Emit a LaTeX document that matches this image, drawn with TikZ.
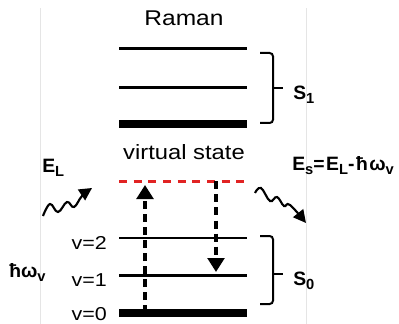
\documentclass[tikz,border=0pt]{standalone}
\usepackage{fontspec}
\setmainfont{Liberation Sans}
\newfontfamily\widefont[FakeStretch=1.15]{Liberation Sans}
\newfontfamily\spacedbold[LetterSpace=8]{Liberation Sans Bold}
\usetikzlibrary{arrows.meta}
\newcommand\subb[1]{\raisebox{-3pt}{\fontsize{11}{11}\selectfont #1}}
\begin{document}
\begin{tikzpicture}[x=0.75pt,y=-0.75pt,
  lvl/.style={line width=1.9pt},
  lvlthick/.style={line width=6pt},
  virt/.style={draw={rgb,255:red,225;green,35;blue,35}, line width=2pt, dash pattern=on 6pt off 5pt},
  trans/.style={line width=2.5pt, dash pattern=on 6pt off 3.8pt, -{Triangle[length=10.5pt,width=12.5pt]}},
  brk/.style={line width=1.5pt, rounded corners=2.5pt},
  wave/.style={line width=1.6pt, -{Triangle[length=9.5pt,width=9.5pt]}},
  reg/.style={font=\widefont\fontsize{14}{16}\selectfont, inner sep=0pt},
  bld/.style={font=\bfseries\fontsize{14.5}{16}\selectfont, inner sep=0pt},
  frame/.style={draw=black!10, line width=0.4pt}
]
\useasboundingbox (0,0) rectangle (399,324);
% faint frame lines
\draw[frame] (40.5,8) -- (40.5,324);
\draw[frame] (306.5,8) -- (306.5,324);
% level coordinates
\coordinate (s1aL) at (119,48.7);  \coordinate (s1aR) at (247,48.7);
\coordinate (s1bL) at (119,87.3);  \coordinate (s1bR) at (247,87.3);
\coordinate (s1cL) at (119,124);   \coordinate (s1cR) at (247,124);
\coordinate (vsL) at (119,181.3);  \coordinate (vsR) at (247,181.3);
\coordinate (v2L) at (119,238);    \coordinate (v2R) at (247,238);
\coordinate (v1L) at (119,275.7);  \coordinate (v1R) at (247,275.7);
\coordinate (v0L) at (119,313.3);  \coordinate (v0R) at (247,313.3);
% levels
\draw[lvl] (s1aL) -- (s1aR);
\draw[lvl] (s1bL) -- (s1bR);
\draw[lvlthick] (s1cL) -- (s1cR);
\draw[virt] (vsL) -- (vsR);
\draw[lvl] (v2L) -- (v2R);
\draw[lvl] (v1L) -- (v1R);
\draw[lvlthick] (v0L) -- (v0R);
% transitions
\coordinate (upS) at (145,313.3);
\coordinate (upE) at (145,185);
\coordinate (dnS) at (216,181.3);
\coordinate (dnE) at (216,272);
\draw[trans] (upS) -- (upE);
\draw[trans] (dnS) -- (dnE);
% brackets
\draw[brk] (260,53) -- (273,53) -- (273,123) -- (260,123);
\draw[line width=1.5pt] (273,88) -- (283,88);
\draw[brk] (260,236) -- (273,236) -- (273,304) -- (260,304);
\draw[line width=1.5pt] (273,274) -- (283,274);
% wavy arrows
\draw[wave] plot[smooth, tension=0.7] coordinates {(43,216) (50,204) (58,212) (67,202) (74,207) (82,196) (92,188)};
\draw[wave] plot[smooth, tension=0.7] coordinates {(255,193) (261,188) (270,201) (277,197) (284,206) (290,205) (306,223)};
% texts
\node[reg, font=\widefont\fontsize{16}{18}\selectfont] (raman) at (184,18) {Raman};
\node[reg, font=\widefont\fontsize{15.5}{18}\selectfont] (virtual) at (184,152) {virtual state};
\node[reg, anchor=base east] (lv2) at (107,249) {v=2};
\node[reg, anchor=base east] (lv1) at (107,286) {v=1};
\node[reg, anchor=base east] (lv0) at (107,320) {v=0};
\node[bld, anchor=base west] (s1) at (293,100) {S\subb{1}};
\node[bld, anchor=base west] (s0) at (293,285) {S\subb{0}};
\node[bld, anchor=base west] (el) at (42,172) {E\subb{L}};
\node[bld, anchor=base west] (hw) at (9,277) {ħω\subb{v}};
\node[bld, font=\spacedbold\fontsize{14.5}{16}\selectfont, anchor=base west] (es) at (292,170.5) {E\subb{s}=E\subb{L}-ħω\subb{v}};
\end{tikzpicture}
\end{document}
